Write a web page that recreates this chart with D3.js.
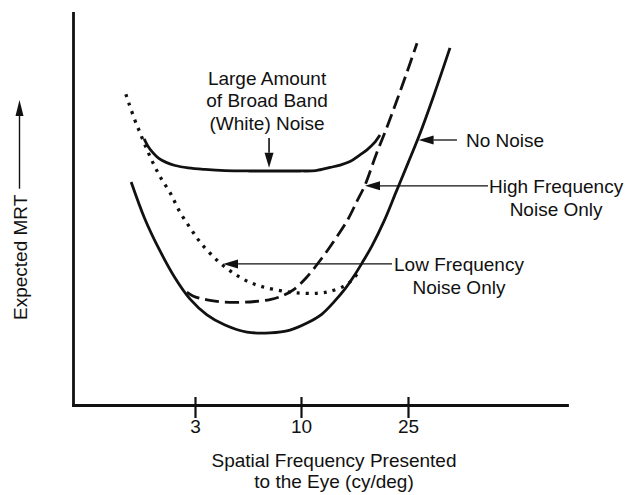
<!DOCTYPE html>
<html>
<head>
<meta charset="utf-8">
<script src="https://cdn.jsdelivr.net/npm/d3@7"></script>
<style>
  html, body { margin: 0; padding: 0; background: #fff; }
  svg { display: block; }
  text { font-family: "Liberation Sans", Arial, Helvetica, sans-serif; fill: #111; }
</style>
</head>
<body>
<svg id="chart" width="629" height="495"></svg>
<script>
// Spatial frequency ticks (cy/deg)
const freqTicks = [3, 10, 25];

// Expected MRT (relative units) vs. spatial frequency (cy/deg)
const noNoise = [
  [1.43, 56.9], [1.77, 47.4], [2.14, 39.3], [2.51, 32.4], [2.88, 27.0],
  [3.79, 23.0], [4.98, 20.4], [6.43, 18.6], [7.95, 18.4], [9.27, 19.1],
  [10.84, 20.9], [12.94, 23.2], [14.63, 26.3], [16.17, 29.6], [17.43, 32.9],
  [18.55, 36.2], [19.95, 40.6], [21.64, 46.9], [23.32, 54.3], [25.0, 61.7],
  [26.04, 68.6], [27.45, 79.1], [28.96, 91.1]
];
const whiteNoise = [
  [1.75, 67.9], [1.84, 66.1], [1.97, 64.3], [2.11, 62.9], [2.29, 61.9],
  [2.51, 61.1], [2.83, 60.5], [3.66, 60.1], [4.98, 59.8], [6.63, 59.7],
  [7.95, 59.7], [9.93, 59.7], [12.10, 59.8], [14.07, 60.6], [15.47, 61.2],
  [16.87, 62.1], [18.27, 63.8], [19.25, 65.1], [20.23, 66.8], [21.07, 68.9]
];
const highFreqNoise = [
  [2.80, 28.8], [2.95, 27.8], [3.33, 27.2], [3.99, 26.7], [4.78, 26.3],
  [5.97, 26.2], [6.96, 26.4], [7.95, 26.9], [8.81, 27.9], [9.54, 29.5],
  [10.70, 32.4], [12.94, 37.5], [14.91, 42.6], [16.59, 47.4], [17.85, 52.0],
  [18.97, 56.1], [20.51, 63.8], [22.06, 70.9], [23.46, 77.8], [24.86, 84.9],
  [25.85, 92.3]
];
const lowFreqNoise = [
  [1.30, 79.3], [1.38, 76.8], [1.52, 72.7], [1.65, 69.4], [1.80, 65.6],
  [1.97, 61.7], [2.16, 57.9], [2.39, 54.1], [2.63, 49.2], [2.88, 45.2],
  [3.33, 41.6], [4.43, 37.0], [5.51, 33.7], [6.50, 31.5], [7.42, 30.2],
  [8.61, 29.2], [9.74, 28.6], [12.24, 28.5], [14.07, 29.0], [15.89, 30.2],
  [17.01, 31.6], [17.99, 33.7]
];

const xTitle = ["Spatial Frequency Presented", "to the Eye (cy/deg)"];
const yTitle = "Expected MRT";

// Callouts: arrow tip and tail in data units
const callouts = [
  { lines: ["Large Amount", "of Broad Band", "(White) Noise"], tip: [7.89, 60.5], tail: [7.89, 68.1], place: "above" },
  { lines: ["No Noise"], tip: [26.0, 67.6], tail: [29.62, 67.6], place: "right", gap: 9 },
  { lines: ["High Frequency", "Noise Only"], tip: [18.97, 55.9], tail: [32.55, 55.9], place: "right", gap: 1 },
  { lines: ["Low Frequency", "Noise Only"], tip: [4.85, 36.0], tail: [22.76, 36.0], place: "right", gap: 2 }
];

const FONT = 19;
const LINE_H = 23.5;
const INK = "#111";

const svg = d3.select("#chart");

// Frequency axis is drawn with uneven spacing between the labelled frequencies
const x = d3.scaleLinear().domain([0, 3, 10, 25, 40]).range([73, 195, 301, 408, 567]);
const y = d3.scaleLinear().domain([0, 100]).range([405, 13]);

// Axes
const gx = svg.append("g")
  .attr("transform", `translate(0,${y(0)})`)
  .call(d3.axisBottom(x).tickValues(freqTicks).tickFormat(d3.format("d"))
    .tickSizeInner(13).tickSizeOuter(0).tickPadding(1.5));
gx.attr("font-family", null).attr("font-size", FONT);
gx.select(".domain").attr("stroke", INK).attr("stroke-width", 2.8).attr("stroke-linecap", "square");
gx.selectAll(".tick line").attr("y1", -8).attr("stroke", INK).attr("stroke-width", 2.2);
gx.selectAll(".tick text").attr("fill", INK);

const gy = svg.append("g")
  .attr("transform", `translate(${x(0)},0)`)
  .call(d3.axisLeft(y).tickValues([]).tickSizeOuter(0));
gy.select(".domain").attr("stroke", INK).attr("stroke-width", 2.8).attr("stroke-linecap", "square");

// Curves
const line = d3.line()
  .x(d => x(d[0]))
  .y(d => y(d[1]))
  .curve(d3.curveCatmullRom.alpha(0.5));

const series = [
  { data: noNoise, width: 2.8, dash: null },
  { data: whiteNoise, width: 2.8, dash: null },
  { data: highFreqNoise, width: 2.8, dash: "14,6" },
  { data: lowFreqNoise, width: 3.3, dash: "3,6" }
];
svg.append("g").selectAll("path")
  .data(series)
  .join("path")
  .attr("d", d => line(d.data))
  .attr("fill", "none")
  .attr("stroke", INK)
  .attr("stroke-width", d => d.width)
  .attr("stroke-dasharray", d => d.dash);

// Arrow helper: thin shaft plus filled head at the tip
function arrow(g, x1, y1, x2, y2, len, half, w) {
  const a = Math.atan2(y2 - y1, x2 - x1);
  const bx = x2 - len * Math.cos(a), by = y2 - len * Math.sin(a);
  g.append("line")
    .attr("x1", x1).attr("y1", y1).attr("x2", bx).attr("y2", by)
    .attr("stroke", INK).attr("stroke-width", w);
  const px = -Math.sin(a) * half, py = Math.cos(a) * half;
  g.append("path")
    .attr("d", `M${x2},${y2}L${bx + px},${by + py}L${bx - px},${by - py}Z`)
    .attr("fill", INK);
}

// Callouts
const gc = svg.append("g");
callouts.forEach(c => {
  const tx = x(c.tip[0]), ty = y(c.tip[1]);
  const sx = x(c.tail[0]), sy = y(c.tail[1]);
  arrow(gc, sx, sy, tx, ty, 15, 4.5, c.place === "above" ? 1.6 : 1.3);

  const texts = c.lines.map(t => gc.append("text")
    .attr("font-size", FONT).attr("text-anchor", "middle").text(t));
  const widths = texts.map(t => t.node().getComputedTextLength());
  const blockW = d3.max(widths);

  if (c.place === "right") {
    const cx = sx + c.gap + blockW / 2;
    texts.forEach((t, i) => t.attr("x", cx).attr("y", sy + 6.8 + i * LINE_H));
  } else {
    const cx = sx - 2;
    const n = texts.length;
    texts.forEach((t, i) => t.attr("x", cx).attr("y", sy - 8 - (n - 1 - i) * 22.6));
  }
});

// Axis titles
svg.append("g").selectAll("text")
  .data(xTitle)
  .join("text")
  .attr("x", 334)
  .attr("y", (d, i) => 467 + i * 20.5)
  .attr("font-size", FONT)
  .attr("text-anchor", "middle")
  .text(d => d);

const yt = svg.append("text")
  .attr("transform", "translate(27,320) rotate(-90)")
  .attr("font-size", FONT)
  .attr("text-anchor", "start")
  .text(yTitle);
const ytLen = yt.node().getComputedTextLength();
arrow(svg, 19.5, 320 - ytLen - 6, 19.5, 100, 16, 4, 1.4);
</script>
</body>
</html>
